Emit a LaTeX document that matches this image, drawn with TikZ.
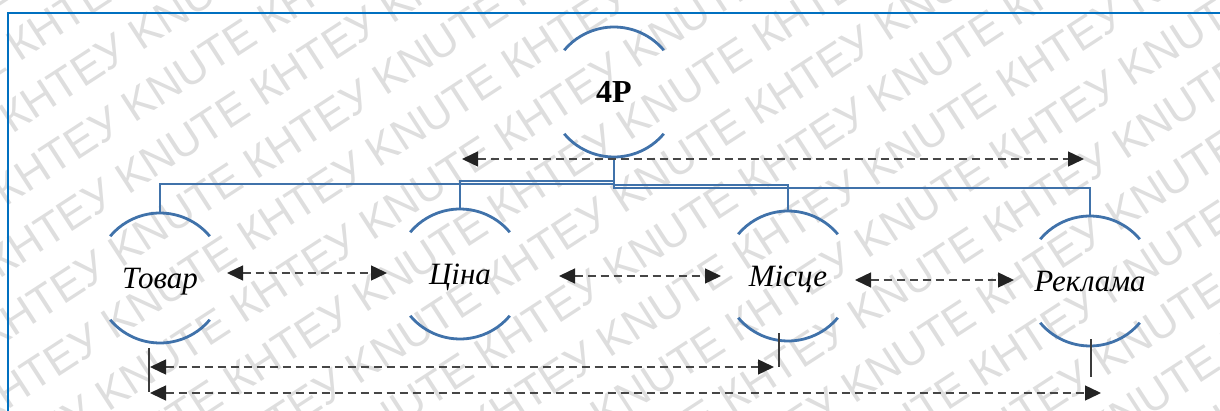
\documentclass[tikz,border=0pt]{standalone}
\usepackage{fontspec}
\setmainfont{Liberation Serif}
\newfontfamily\wmfont{Liberation Sans}
\usetikzlibrary{arrows.meta}

\definecolor{framebl}{RGB}{0,112,192}
\definecolor{arcbl}{RGB}{64,114,170}
\definecolor{dashgr}{RGB}{70,70,70}
\definecolor{tickgr}{RGB}{60,60,60}
\definecolor{tipgr}{RGB}{35,35,35}
\definecolor{wmgr}{RGB}{222,222,222}

\tikzset{
  ring/.style={circle, minimum size=130pt, inner sep=0pt, outer sep=0pt,
    text depth=0pt, font=\fontsize{31}{34}\selectfont\itshape},
  arcline/.style={draw=arcbl, line width=2.8pt},
  tree/.style={draw=arcbl, line width=2.6pt},
  link/.style={draw=dashgr, line width=1.4pt, dash pattern=on 8pt off 5pt,
    {Triangle[length=16pt,width=15pt,color=tipgr]}-{Triangle[length=16pt,width=15pt,color=tipgr]}},
  tick/.style={draw=tickgr, line width=1.6pt},
  wm/.style={text=wmgr, font=\wmfont\fontsize{44}{48}\selectfont, inner sep=0pt}
}

\begin{document}
\begin{tikzpicture}[x=1pt,y=1pt]
\useasboundingbox (0,0) rectangle (1220,410);

% background watermark: diagonal rows of the university abbreviation
\begin{scope}
  \clip (0,0) rectangle (1220,410);
  \foreach \k in {-10,...,10} {
    \node[wm, rotate=33] at ({610-0.545*57*\k+0.839*45*\k},{205+0.839*57*\k+0.545*45*\k})
      {KNUTE КНТЕУ KNUTE КНТЕУ KNUTE КНТЕУ KNUTE КНТЕУ KNUTE КНТЕУ KNUTE КНТЕУ KNUTE КНТЕУ KNUTE КНТЕУ};
  }
\end{scope}

% page frame
\draw[framebl, line width=2.6pt] (8,-5) -- (8,397) -- (1230,397);

% the five rings
\node[ring, font=\fontsize{32}{34}\selectfont\bfseries] (p4) at (614,318) {4P};
\node[ring] (tovar)  at (160,132) {Товар};
\node[ring] (cina)   at (460,136) {Ціна};
\node[ring] (misce)  at (788,134) {Місце};
\node[ring] (reklama) at (1090,129) {Реклама};

\foreach \n in {p4,tovar,cina,misce,reklama} {
  \draw[arcline] (\n.40) arc[start angle=40, end angle=140, radius=65pt];
  \draw[arcline] (\n.220) arc[start angle=220, end angle=320, radius=65pt];
}

% tree connectors
\draw[tree] (p4.south) -- ++(0,-24) -| (cina.north);
\draw[tree] (p4.south) -- ++(0,-27) -| (tovar.north);
\draw[tree] (p4.south) -- ++(0,-28) -| (misce.north);
\draw[tree] (p4.south) -- ++(0,-31) -| (reklama.north);

% arrow ends
\coordinate (t1) at (462,251);  \coordinate (t2) at (1084,251);
\coordinate (a1) at (227,137);  \coordinate (a2) at (387,137);
\coordinate (b1) at (559,134);  \coordinate (b2) at (721,134);
\coordinate (c1) at (855,130);  \coordinate (c2) at (1014,130);
\coordinate (d1) at (150,43);   \coordinate (d2) at (774,43);
\coordinate (e1) at (150,17);   \coordinate (e2) at (1101,17);
\coordinate (tk1a) at (149,62);  \coordinate (tk1b) at (149,18);
\coordinate (tk2a) at (779,77);  \coordinate (tk2b) at (779,43);
\coordinate (tk3a) at (1091,71); \coordinate (tk3b) at (1091,33);

% relations
\draw[link] (t1) -- (t2);
\draw[link] (a1) -- (a2);
\draw[link] (b1) -- (b2);
\draw[link] (c1) -- (c2);
\draw[link] (d1) -- (d2);
\draw[link] (e1) -- (e2);

% marker ticks
\draw[tick] (tk1a) -- (tk1b);
\draw[tick] (tk2a) -- (tk2b);
\draw[tick] (tk3a) -- (tk3b);
\end{tikzpicture}
\end{document}
